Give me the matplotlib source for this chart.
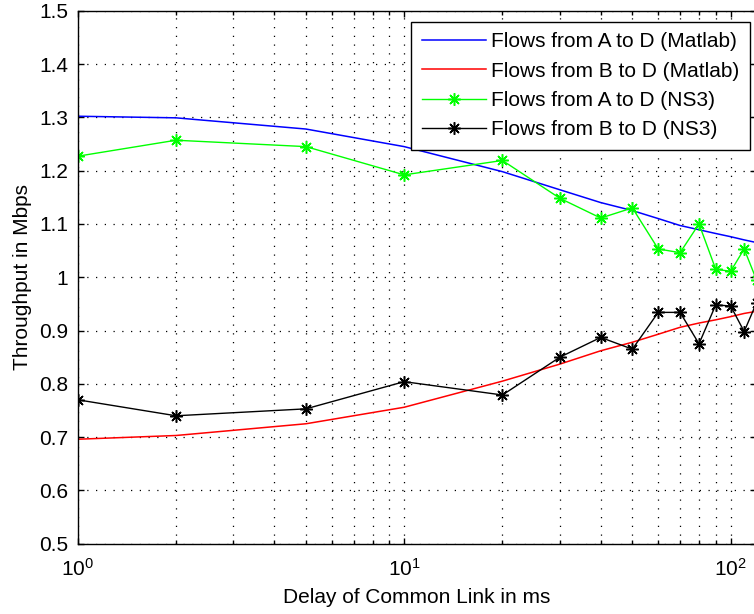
import matplotlib
matplotlib.use("Agg")
import matplotlib.pyplot as plt
from matplotlib.ticker import FixedLocator, FuncFormatter, LogLocator, LogFormatterMathtext, NullFormatter

plt.rcParams['font.family'] = ['Liberation Sans', 'DejaVu Sans']
plt.rcParams['mathtext.default'] = 'regular'

delay_ms = [1, 2, 5, 10, 20, 30, 40, 50, 60, 70, 80, 90, 100, 110, 120]
a_matlab = [1.302, 1.299, 1.278, 1.245, 1.198, 1.164, 1.140, 1.125, 1.110, 1.097, 1.089, 1.082, 1.076, 1.070, 1.065]
b_matlab = [0.696, 0.703, 0.725, 0.756, 0.805, 0.837, 0.862, 0.878, 0.893, 0.906, 0.914, 0.920, 0.926, 0.932, 0.936]
a_ns3 = [1.227, 1.257, 1.245, 1.192, 1.219, 1.148, 1.111, 1.130, 1.053, 1.046, 1.100, 1.015, 1.011, 1.053, 0.995]
b_ns3 = [0.770, 0.740, 0.753, 0.804, 0.779, 0.850, 0.887, 0.865, 0.934, 0.934, 0.875, 0.948, 0.946, 0.898, 0.952]
labels = ['Flows from A to D (Matlab)', 'Flows from B to D (Matlab)',
          'Flows from A to D (NS3)', 'Flows from B to D (NS3)']
y_ticks = [0.5, 0.6, 0.7, 0.8, 0.9, 1.0, 1.1, 1.2, 1.3, 1.4, 1.5]

W, H = 754, 614
fig = plt.figure(figsize=(W / 100, H / 100), dpi=100)
left, right, top, bottom = 77.7, 756.5, 10.7, 543.7
ax = fig.add_axes([left / W, 1 - bottom / H, (right - left) / W, (bottom - top) / H])

asterisk = (8, 2, 0)
ax.plot(delay_ms, a_matlab, color=(0, 0, 1), lw=1.1, label=labels[0])
ax.plot(delay_ms, b_matlab, color=(1, 0, 0), lw=1.1, label=labels[1])
ax.plot(delay_ms, a_ns3, color=(0, 1, 0), lw=1.0, marker=asterisk, ms=9, mew=1.1, label=labels[2])
ax.plot(delay_ms, b_ns3, color='black', lw=1.0, marker=asterisk, ms=9, mew=1.1, label=labels[3])

ax.set_xscale('log')
ax.set_xlim(1, 120)
ax.set_ylim(0.5, 1.5)
ax.xaxis.set_major_locator(LogLocator(base=10, numticks=10))
ax.xaxis.set_major_formatter(LogFormatterMathtext())
ax.xaxis.set_minor_locator(LogLocator(base=10, subs=range(2, 10), numticks=20))
ax.xaxis.set_minor_formatter(NullFormatter())
ax.yaxis.set_major_locator(FixedLocator(y_ticks))
ax.yaxis.set_major_formatter(FuncFormatter(lambda v, p: '%g' % round(v, 2)))

grid_kw = dict(color='black', linestyle=(0, (1, 6)), linewidth=0.9)
ax.grid(True, which='major', axis='both', **grid_kw)
ax.grid(True, which='minor', axis='x', **grid_kw)

ax.tick_params(which='both', direction='in', top=True, right=True, width=1.0,
               labelsize=15, color='black', labelcolor='black')
ax.tick_params(which='major', length=4)
ax.tick_params(axis='y', which='major', pad=7)
ax.tick_params(axis='x', which='major', pad=10)
ax.tick_params(which='minor', length=3)
for s in ax.spines.values():
    s.set_linewidth(1.0)
    s.set_color('black')

ax.set_xlabel('Delay of Common Link in ms', fontsize=15, labelpad=6)
ax.set_ylabel('Throughput in Mbps', fontsize=15, labelpad=5)

leg = ax.legend(loc='upper right', bbox_to_anchor=(750 / W, 1 - 21.7 / H),
                bbox_transform=fig.transFigure, borderaxespad=0, fontsize=15,
                fancybox=False, framealpha=1, edgecolor='black',
                handlelength=3.1, handletextpad=0.25, labelspacing=0.5,
                borderpad=0.5, numpoints=1)
leg.get_frame().set_linewidth(1.0)

fig.savefig('out.png', dpi=100)
